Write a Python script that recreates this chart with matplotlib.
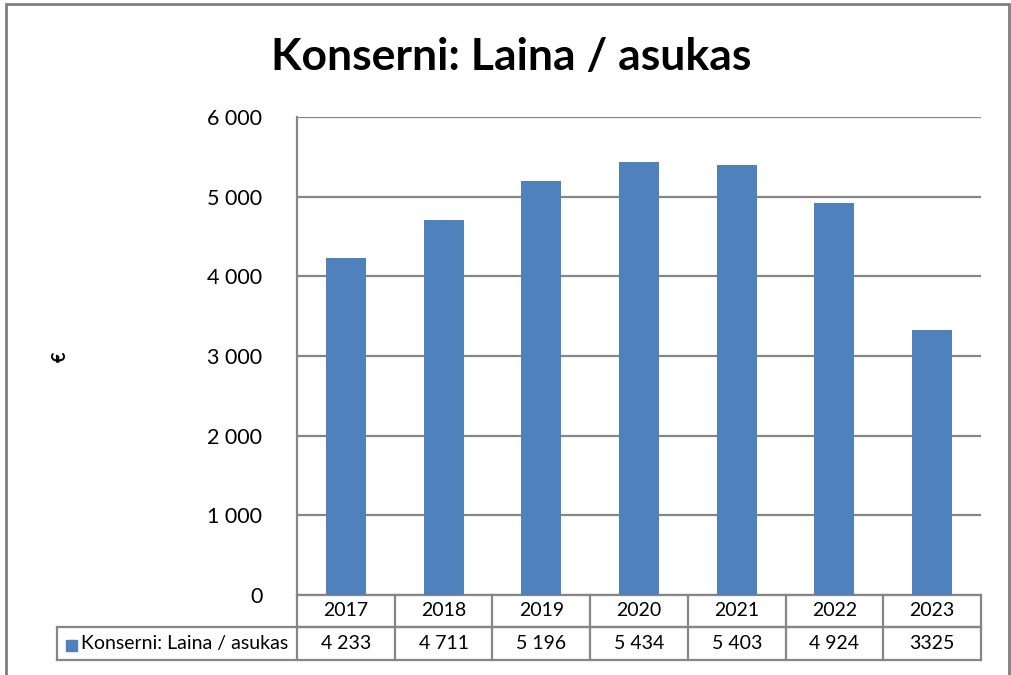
import matplotlib
matplotlib.use("Agg")
import matplotlib.pyplot as plt
import matplotlib.transforms as mtransforms
from matplotlib.patches import Rectangle

years = ["2017", "2018", "2019", "2020", "2021", "2022", "2023"]
values = [4233, 4711, 5196, 5434, 5403, 4924, 3325]
value_labels = ["4 233", "4 711", "5 196", "5 434", "5 403", "4 924", "3325"]
series_name = "Konserni: Laina / asukas"
title = "Konserni: Laina / asukas"
yticks = [0, 1000, 2000, 3000, 4000, 5000, 6000]
ytick_labels = ["0", "1 000", "2 000", "3 000", "4 000", "5 000", "6 000"]

bar_color = "#4F81BD"
line_color = "#868686"
W, H = 1011, 675

plt.rcParams["font.family"] = ["Lato", "DejaVu Sans"]

fig = plt.figure(figsize=(W / 100, H / 100), dpi=100)
ax = fig.add_axes([297 / W, 1 - 595 / H, (981 - 297) / W, (595 - 117) / H])

x = list(range(len(years)))
ax.bar(x, values, width=0.41, color=bar_color, zorder=3)
ax.set_xlim(-0.5, len(years) - 0.5)
ax.set_ylim(0, 6000)
ax.set_yticks(yticks)
ax.set_yticklabels(ytick_labels, fontsize=15.5)
ax.tick_params(axis="y", length=0, pad=25)
ax.set_xticks([])
ax.grid(axis="y", color=line_color, lw=1.6, zorder=0)
for s in ["top", "right", "bottom"]:
    ax.spines[s].set_visible(False)
ax.spines["left"].set_color(line_color)
ax.spines["left"].set_linewidth(1.6)

fig.text(60 / W, 1 - 357 / H, "€", rotation=90, fontsize=13, fontweight="bold",
         ha="center", va="center")
fig.text(511 / W, 1 - 57 / H, title, fontsize=32, fontweight="bold",
         ha="center", va="center")

# data table below the plot
tr = mtransforms.blended_transform_factory(ax.transData, fig.transFigure)
y0, y1, y2 = 1 - 595 / H, 1 - 627 / H, 1 - 660 / H
xl, xr = -0.5, len(years) - 0.5
lw = 1.6
kw = dict(color=line_color, lw=lw, transform=tr, clip_on=False)
ax.plot([xl, xr], [y0, y0], **kw)
ax.plot([xl, xr], [y1, y1], **kw)
ax.plot([xr, xr], [y0, y2], **kw)
for i in range(len(years)):
    ax.plot([i - 0.5, i - 0.5], [y0, y2], **kw)
    ax.text(i, (y0 + y1) / 2, years[i], transform=tr, ha="center", va="center",
            fontsize=14)
    ax.text(i, (y1 + y2) / 2, value_labels[i], transform=tr, ha="center",
            va="center", fontsize=14)

ftr = fig.transFigure
leg_l = 57 / W
fig.add_artist(plt.Line2D([leg_l, 981 / W], [y1, y1], color=line_color, lw=lw, transform=ftr))
fig.add_artist(plt.Line2D([leg_l, 981 / W], [y2, y2], color=line_color, lw=lw, transform=ftr))
fig.add_artist(plt.Line2D([leg_l, leg_l], [y1, y2], color=line_color, lw=lw, transform=ftr))
fig.add_artist(Rectangle((66 / W, 1 - 651 / H), 11 / W, 11 / H, color=bar_color, transform=ftr))
fig.text(81 / W, (y1 + y2) / 2, series_name, fontsize=14, ha="left", va="center")

# outer frame
fig.add_artist(Rectangle((6 / W, -0.02), (1009 - 6) / W, 1.02 - 4 / H, fill=False,
                         edgecolor="#7f7f7f", lw=2, transform=ftr))

fig.savefig("out.png", dpi=100)
